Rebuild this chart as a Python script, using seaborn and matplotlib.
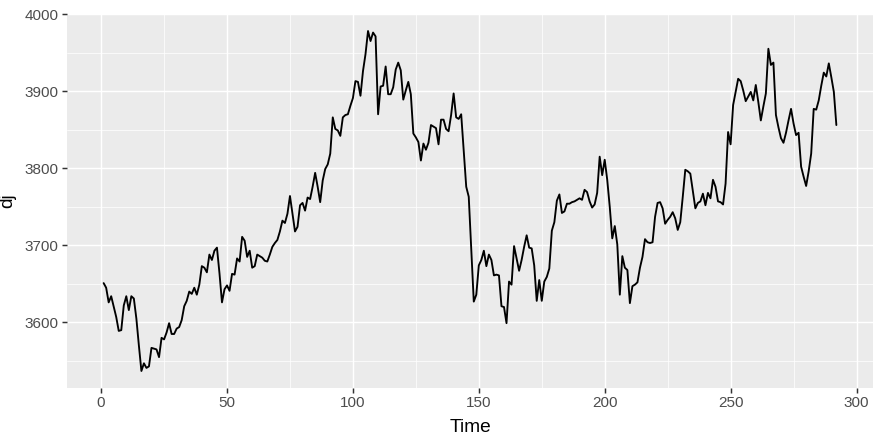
import numpy as np
import pandas as pd
import matplotlib
matplotlib.use("Agg")
import matplotlib.pyplot as plt
import seaborn as sns
from matplotlib.ticker import MultipleLocator

# Dow Jones index, 292 consecutive trading days
dj = [
    3651, 3645, 3626, 3634, 3620.5, 3607, 3589, 3590, 3622, 3634,
    3616, 3634, 3631, 3605, 3570, 3537, 3547, 3541, 3543, 3567,
    3566, 3565, 3555, 3580, 3578, 3587, 3599, 3585, 3585, 3592,
    3594, 3603, 3621, 3628, 3640, 3637, 3645, 3636, 3649, 3673,
    3671, 3665, 3688, 3681, 3693, 3697, 3664, 3626, 3643, 3648,
    3641, 3663, 3662, 3683, 3679, 3711, 3706, 3685, 3693, 3671,
    3673, 3688, 3686, 3684, 3680, 3679, 3688, 3698, 3703, 3707,
    3718, 3732, 3729, 3741, 3764, 3741, 3718, 3724, 3752, 3755,
    3745, 3762, 3760, 3776, 3794, 3776, 3756, 3784, 3799, 3805,
    3819, 3866, 3851, 3849, 3842, 3866, 3869, 3870, 3881, 3891,
    3913, 3912, 3894, 3926, 3948, 3978, 3965, 3976, 3971, 3870,
    3906, 3907, 3932, 3896, 3896, 3905, 3928, 3937, 3927, 3889,
    3901, 3912, 3896, 3845, 3840, 3834, 3810, 3832, 3824, 3833,
    3856, 3854, 3852, 3831, 3863, 3863, 3851, 3848, 3869, 3897,
    3866, 3864, 3870, 3824, 3776, 3763, 3695, 3627, 3636, 3674,
    3681, 3693, 3673, 3688, 3681, 3661, 3662, 3661, 3621, 3620,
    3599, 3653, 3649, 3699, 3683, 3667, 3681, 3698, 3713, 3697,
    3696, 3674, 3628, 3655, 3628, 3653, 3659, 3670, 3719, 3730,
    3758, 3766, 3742, 3744, 3754, 3754, 3756, 3757, 3759, 3761,
    3759, 3772, 3769, 3757, 3749, 3753, 3768, 3815, 3791, 3811,
    3785, 3750, 3709, 3725, 3701, 3636, 3686, 3671, 3668, 3625,
    3647, 3649, 3652, 3671, 3685, 3708, 3704, 3703, 3704, 3737,
    3755, 3756, 3748, 3728, 3733, 3737, 3743, 3735, 3720, 3730,
    3763, 3798, 3796, 3793, 3770, 3748, 3755, 3757, 3767, 3752,
    3768, 3761, 3785, 3776, 3757, 3756, 3753, 3780, 3847, 3831,
    3882, 3899, 3916, 3913, 3901, 3887, 3893, 3899, 3888, 3908,
    3886, 3862, 3880, 3897, 3955, 3934, 3937, 3869, 3853, 3839,
    3833, 3846, 3862, 3877, 3858, 3843, 3846, 3802, 3789, 3777,
    3796, 3819, 3877, 3876, 3888, 3907, 3924, 3919, 3936, 3918,
    3899, 3856,
]
time = list(range(1, len(dj) + 1))
x_ticks = [0, 50, 100, 150, 200, 250, 300]
y_ticks = [3600, 3700, 3800, 3900, 4000]

df = pd.DataFrame({"Time": time, "dj": dj})

# ggplot2 theme_grey look
sns.set_theme(style="darkgrid", rc={
    "axes.facecolor": "#EBEBEB",
    "grid.color": "white",
    "axes.edgecolor": "none",
})
plt.rcParams["font.family"] = ["Liberation Sans", "DejaVu Sans"]

fig = plt.figure(figsize=(8.8, 4.43), dpi=100)
ax = fig.add_axes([67 / 880, 1 - 388 / 443, (873 - 67) / 880, (388 - 14) / 443])

sns.lineplot(data=df, x="Time", y="dj", color="black", linewidth=1.35, ax=ax)

# ggplot-style 5% expansion
xr = max(time) - min(time)
yr = max(dj) - min(dj)
ax.set_xlim(min(time) - 0.05 * xr, max(time) + 0.05 * xr)
ax.set_ylim(min(dj) - 0.05 * yr, max(dj) + 0.05 * yr)

ax.set_xticks(x_ticks)
ax.set_yticks(y_ticks)
ax.xaxis.set_minor_locator(MultipleLocator(25))
ax.yaxis.set_minor_locator(MultipleLocator(50))
ax.grid(which="major", color="white", linewidth=1.07)
ax.grid(which="minor", color="white", linewidth=0.53)
ax.set_axisbelow(True)

ax.tick_params(which="major", length=3.5, width=1.07, color="#333333",
               labelsize=8.8 * 1.25, labelcolor="#4D4D4D", pad=2.5,
               bottom=True, left=True)
ax.tick_params(which="minor", length=0)
for s in ax.spines.values():
    s.set_visible(False)

ax.set_xlabel("Time", fontsize=11 * 1.25, color="black", labelpad=6)
ax.set_ylabel("dj", fontsize=11 * 1.25, color="black", labelpad=6)

fig.savefig("out.png", dpi=100)
